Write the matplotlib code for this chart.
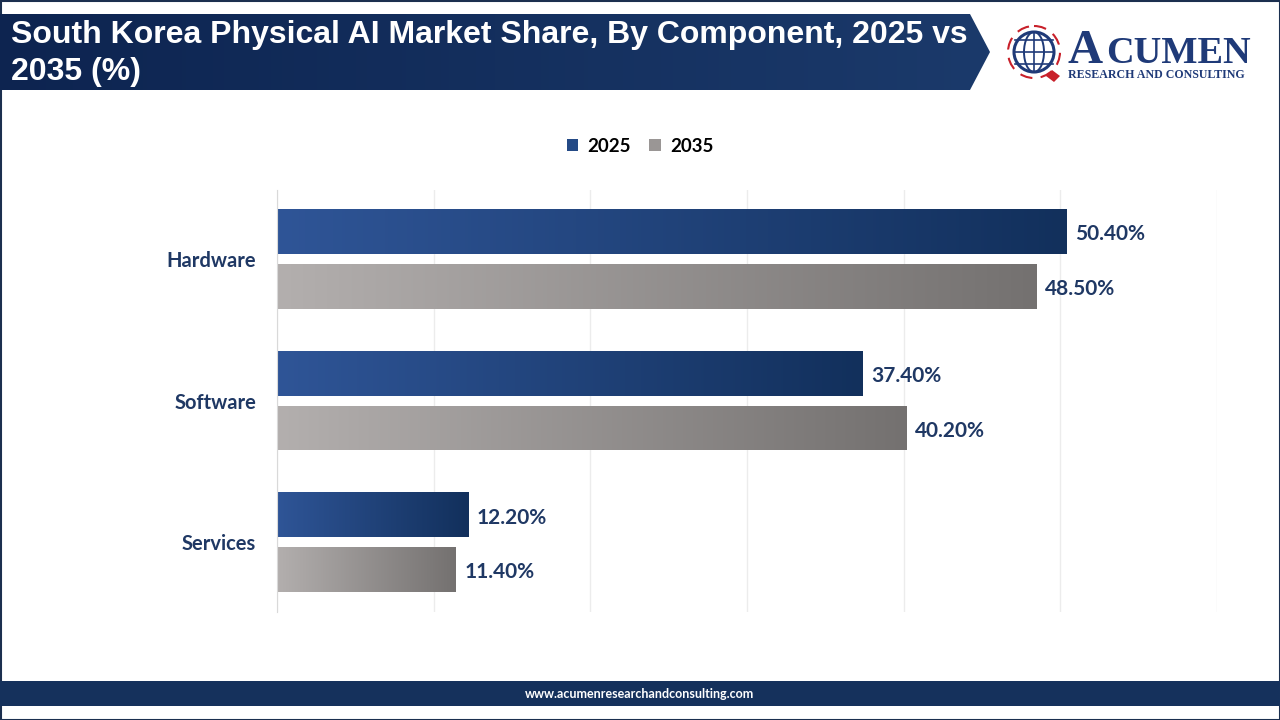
import numpy as np
import matplotlib.pyplot as plt
from matplotlib.patches import Polygon, Rectangle, Circle, Ellipse, Patch
from matplotlib.colors import LinearSegmentedColormap

# data
categories = ["Hardware", "Software", "Services"]
years = ["2025", "2035"]
share_2025 = [50.4, 37.4, 12.2]
share_2035 = [48.5, 40.2, 11.4]

TITLE = "South Korea Physical AI Market Share, By Component, 2025 vs\n2035 (%)"
NAVY = "#1f3864"

blue_cmap = LinearSegmentedColormap.from_list("blue", ["#2f5597", "#12305c"])
grey_cmap = LinearSegmentedColormap.from_list("grey", ["#b3afae", "#747170"])

fig = plt.figure(figsize=(12.8, 7.2), dpi=100)
fig.patch.set_facecolor("white")

# figure frame, title banner, footer
bg = fig.add_axes([0, 0, 1, 1])
bg.set_xlim(0, 1280)
bg.set_ylim(720, 0)
bg.axis("off")
bg.add_patch(Rectangle((0.5, 0.5), 1279, 719, fill=False, ec="#1b2f4f", lw=1.5))

grad = np.linspace(0, 1, 256).reshape(1, -1)
banner_cmap = LinearSegmentedColormap.from_list("banner", ["#0d2450", "#1b3a6b"])
banner = Polygon([(0, 14), (970, 14), (990, 52), (970, 90), (0, 90)], closed=True,
                 fc="none", ec="none")
bg.add_patch(banner)
im = bg.imshow(grad, cmap=banner_cmap, extent=(0, 990, 90, 14), aspect="auto", zorder=1)
im.set_clip_path(banner)
bg.text(11, 53.5, TITLE, color="white", fontsize=23, fontweight="bold",
        family="Liberation Sans", va="center", ha="left", linespacing=1.3, zorder=3)

bg.add_patch(Rectangle((0, 681), 1280, 25, fc="#15315c", ec="none"))
bg.text(640, 693.5, "www.acumenresearchandconsulting.com", color="white", fontsize=9,
        fontweight="bold", family="Lato", ha="center", va="center")

# logo
bg.add_patch(Circle((1034, 52), 20, fc="none", ec="#1f3a78", lw=2.2))
bg.add_patch(Ellipse((1034, 52), 20, 40, fc="none", ec="#1f3a78", lw=1.4))
for dy in (-12, 0, 12):
    bg.plot([1015, 1053], [52 + dy, 52 + dy], color="#1f3a78", lw=1.2)
bg.plot([1034, 1034], [32, 72], color="#1f3a78", lw=1.2)
bg.add_patch(Circle((1034, 52), 26, fc="none", ec="#c8202a", lw=1.5, ls=(0, (6, 4))))
bg.add_patch(Polygon([(1052, 70), (1060, 76), (1054, 82), (1046, 76)], fc="#c8202a", ec="none"))
bg.text(1068, 63, "A", color="#1f3a78", fontsize=35, family="Liberation Serif",
        fontweight="bold", va="baseline")
bg.text(1106, 63, "CUMEN", color="#1f3a78", fontsize=27.5, family="Liberation Serif",
        fontweight="bold", va="baseline")
bg.text(1068, 78, "RESEARCH AND CONSULTING", color="#1f3a78", fontsize=8.6,
        family="Liberation Serif", fontweight="bold", va="baseline")

# chart
ax = fig.add_axes([0.2164, 0.15, 0.7344, 0.586])
y = np.arange(len(categories))[::-1].astype(float)
off = 0.194
h = 0.317
b1 = ax.barh(y + off, share_2025, height=h, color="none", label=years[0])
b2 = ax.barh(y - off, share_2035, height=h, color="none", label=years[1])

for bars, cmap in ((b1, blue_cmap), (b2, grey_cmap)):
    for p in bars:
        x0, y0 = p.get_x(), p.get_y()
        w, hh = p.get_width(), p.get_height()
        g = ax.imshow(grad, cmap=cmap, extent=(x0, x0 + w, y0, y0 + hh),
                      aspect="auto", zorder=2)
        g.set_clip_path(p)

for bars, vals in ((b1, share_2025), (b2, share_2035)):
    for p, v in zip(bars, vals):
        ax.text(p.get_width() + 0.55, p.get_y() + p.get_height() / 2 - 0.02, f"{v:.2f}%",
                color=NAVY, fontsize=15, fontweight="bold", family="Lato",
                va="center", ha="left", zorder=3)

ax.set_xlim(0, 60)
ax.set_ylim(-0.493, 2.486)
ax.set_xticks(np.arange(0, 61, 10))
ax.set_xticklabels([])
ax.tick_params(axis="x", length=0)
ax.tick_params(axis="y", length=0, pad=15)
ax.set_yticks(y)
ax.set_yticklabels(categories, color=NAVY, fontsize=14.5, fontweight="bold", family="Lato")
ax.grid(axis="x", color="#ececec", lw=1)
ax.set_axisbelow(True)
for s in ("top", "right", "bottom"):
    ax.spines[s].set_visible(False)
ax.spines["left"].set_color("#d9d9d9")

handles = [Patch(fc="#244a86", ec="none"), Patch(fc="#9a9695", ec="none")]
fig.legend(handles, years, loc="center", bbox_to_anchor=(0.5, 1 - 146 / 720), ncol=2,
           frameon=False, prop={"family": "Lato", "weight": "bold", "size": 13.5},
           handlelength=0.6, handleheight=0.6, handletextpad=0.5, columnspacing=1.0)

fig.savefig("out.png", dpi=100)
